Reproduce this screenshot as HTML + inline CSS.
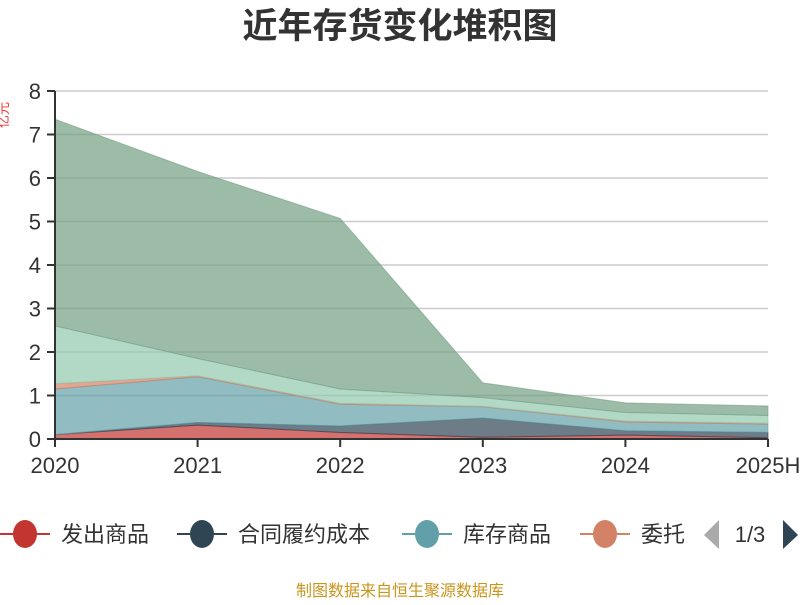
<!DOCTYPE html>
<html><head><meta charset="utf-8"><style>
body{margin:0;background:#fff;}
svg text{font-family:"Liberation Sans","Noto Sans CJK SC",sans-serif;}
</style></head><body>
<svg width="800" height="600" viewBox="0 0 800 600">
<text x="400" y="38" text-anchor="middle" font-size="35" font-weight="bold" fill="#333">近年存货变化堆积图</text>
<text transform="translate(8,115) rotate(-90)" text-anchor="middle" font-size="13" fill="#e33">亿元</text>
<g id="grid"></g>
<g id="areas"></g>
<g id="axes"></g>
<g id="legend"></g>
<text x="400" y="596" text-anchor="middle" font-size="16" fill="#c8961e">制图数据来自恒生聚源数据库</text>
</svg>
<script>
const categories=["2020","2021","2022","2023","2024","2025H"];
const seriesNames=["发出商品","合同履约成本","库存商品","委托加工物资","原材料","在产品"];
const s1=[0.10,0.32,0.15,0.04,0.09,0.03];
const s2=[0.00,0.06,0.15,0.44,0.10,0.12];
const s3=[1.05,1.05,0.50,0.26,0.20,0.19];
const s4=[0.12,0.02,0.02,0.01,0.02,0.02];
const s5=[1.33,0.40,0.33,0.20,0.20,0.18];
const s6=[4.75,4.30,3.92,0.34,0.22,0.22];
const yTicks=[0,1,2,3,4,5,6,7,8];
const NS="http://www.w3.org/2000/svg";
const colors=["#c23531","#2f4554","#61a0a8","#d48265","#91c7ae","#749f83"];
const X0=55,X1=768,Y0=439,Y1=91,YMAX=8;
const xs=i=>X0+(X1-X0)*i/(categories.length-1);
const ys=v=>Y0-(Y0-Y1)*v/YMAX;
function mk(t,a,p){const e=document.createElementNS(NS,t);for(const k in a)e.setAttribute(k,a[k]);p.appendChild(e);return e;}
const grid=document.getElementById('grid'),axes=document.getElementById('axes'),areas=document.getElementById('areas');
yTicks.forEach(v=>{
 if(v>0){const l=mk('line',{x1:X0,x2:X1,y1:ys(v),y2:ys(v),stroke:'#ccc','stroke-width':1.5},grid);
 
 }
 const t=mk('line',{x1:X0-8,x2:X0,y1:ys(v),y2:ys(v),stroke:'#333','stroke-width':2},axes);
 
 
 const tx=mk('text',{x:X0-14,y:ys(v)+8,'text-anchor':'end','font-size':22,fill:'#333'},axes);
 tx.textContent=v;
 
 
});
const all=[s1,s2,s3,s4,s5,s6];
let base=categories.map(()=>0);
all.forEach((s,k)=>{
 const top=base.map((b,i)=>b+s[i]);
 let d='M'+categories.map((c,i)=>xs(i)+','+ys(top[i])).join(' L');
 for(let i=categories.length-1;i>=0;i--)d+=' L'+xs(i)+','+ys(base[i]);
 d+=' Z';
 const p=mk('path',{d:d,fill:colors[k],'fill-opacity':0.7,stroke:colors[k],'stroke-opacity':0.6,'stroke-width':1},areas);
 
 
 base=top;
});
const ax=mk('line',{x1:X0,x2:X1,y1:Y0,y2:Y0,stroke:'#333','stroke-width':2},axes);


const ay=mk('line',{x1:X0,x2:X0,y1:Y0,y2:Y1,stroke:'#333','stroke-width':2},axes);


categories.forEach((c,i)=>{
 const t=mk('line',{x1:xs(i),x2:xs(i),y1:Y0,y2:Y0+8,stroke:'#333','stroke-width':2},axes);
 
 
 const tx=mk('text',{x:xs(i),y:Y0+34,'text-anchor':'middle','font-size':22,fill:'#333'},axes);
 tx.textContent=c;
 
 
});
const leg=document.getElementById('legend');
const legX=[25,202,427,605];
const legLabels=["发出商品","合同履约成本","库存商品","委托"];
legLabels.forEach((n,k)=>{
 const g=mk('g',{},leg);
 
 
 mk('line',{x1:legX[k]-25,x2:legX[k]+25,y1:534,y2:534,stroke:colors[k],'stroke-width':2},g);
 mk('ellipse',{cx:legX[k],cy:534,rx:12,ry:14,fill:colors[k]},g);
 const t=mk('text',{x:legX[k]+36,y:542,'font-size':22,fill:'#333'},g);
 t.textContent=n;
});
const pl=mk('polygon',{points:'719,520 719,549 704,535',fill:'#aaa'},leg);


const pt=mk('text',{x:750,y:542,'text-anchor':'middle','font-size':22,fill:'#333'},leg);
pt.textContent='1/3';


const pr=mk('polygon',{points:'783,520 783,549 798,535',fill:'#2f4554'},leg);


</script>
</body></html>
